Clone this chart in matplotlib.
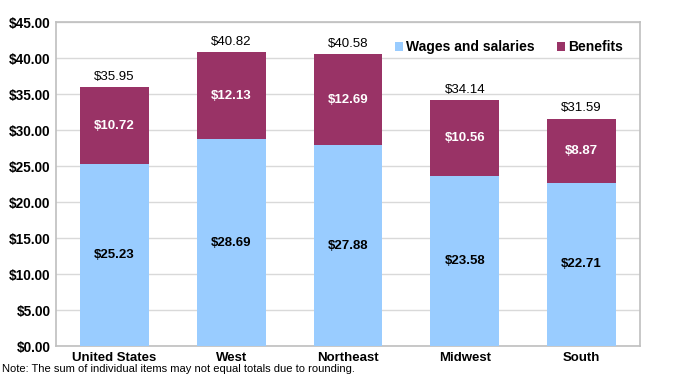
import matplotlib

matplotlib.use("Agg")
import matplotlib.pyplot as plt
import numpy as np

plt.rcParams["font.family"] = ["Liberation Sans", "DejaVu Sans"]

regions = ["United States", "West", "Northeast", "Midwest", "South"]
wages = [25.23, 28.69, 27.88, 23.58, 22.71]
benefits = [10.72, 12.13, 12.69, 10.56, 8.87]
totals = [35.95, 40.82, 40.58, 34.14, 31.59]

wage_color = "#99CCFF"
benefit_color = "#993366"

fig = plt.figure(figsize=(6.73, 3.75), dpi=100)
ax = fig.add_axes([0.0832, 0.0773, 0.8678, 0.864])

x = np.arange(len(regions))
width = 0.59
ax.bar(x, wages, width, color=wage_color, label="Wages and salaries", zorder=3)
ax.bar(x, benefits, width, bottom=wages, color=benefit_color, label="Benefits", zorder=3)

for i in range(len(regions)):
    ax.text(x[i], wages[i] / 2, f"${wages[i]:.2f}", ha="center", va="center",
            fontsize=9.5, fontweight="bold", color="black", zorder=4)
    ax.text(x[i], wages[i] + benefits[i] / 2, f"${benefits[i]:.2f}", ha="center", va="center",
            fontsize=9.5, fontweight="bold", color="white", zorder=4)
    ax.text(x[i], totals[i] + 0.6, f"${totals[i]:.2f}", ha="center", va="bottom",
            fontsize=9.5, color="black", zorder=4)

ax.set_xlim(-0.5, len(regions) - 0.5)
ax.set_ylim(0, 45)
ax.set_yticks(np.arange(0, 46, 5))
ax.set_yticklabels([f"${v:.2f}" for v in np.arange(0, 46, 5)], fontsize=9.8, fontweight="bold")
ax.set_xticks(x)
ax.set_xticklabels(regions, fontsize=9.5, fontweight="bold")
ax.tick_params(length=0, pad=4)
ax.grid(axis="y", color="#D9D9D9", linewidth=1, zorder=0)
for side in ["left", "right", "top", "bottom"]:
    ax.spines[side].set_color("#BFBFBF")
    ax.spines[side].set_linewidth(1.2)

ax.legend(loc="upper right", bbox_to_anchor=(0.992, 0.982), ncol=2, frameon=False,
          prop={"size": 10, "weight": "bold"}, handlelength=0.55, handleheight=0.55,
          handletextpad=0.25, columnspacing=1.6)

fig.text(0.003, 0.003, "Note: The sum of individual items may not equal totals due to rounding.",
         fontsize=8, va="bottom", ha="left")

fig.savefig("out.png", dpi=100)
